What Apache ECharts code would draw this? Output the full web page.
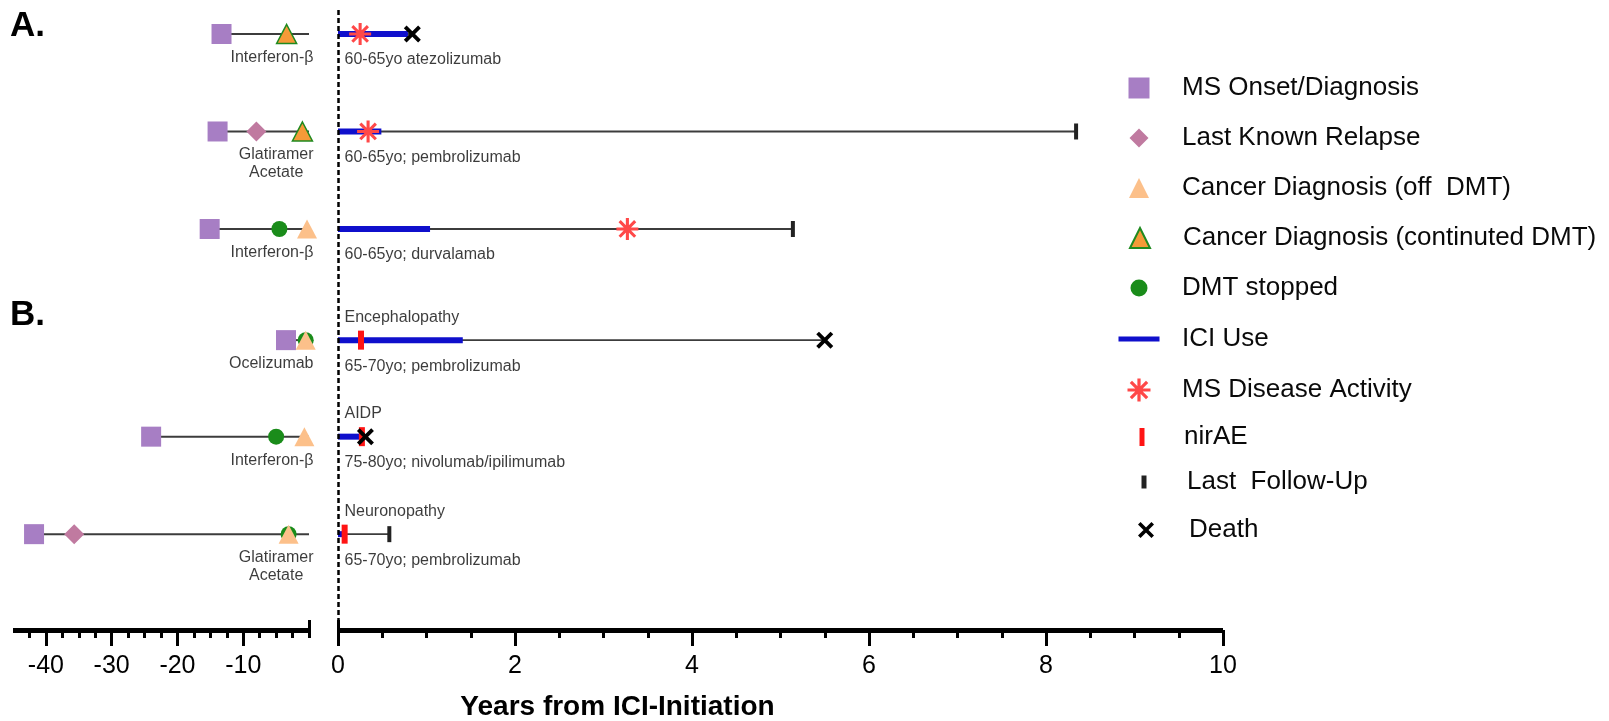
<!DOCTYPE html>
<html>
<head>
<meta charset="utf-8">
<script src="https://cdn.jsdelivr.net/npm/echarts@6/dist/echarts.min.js"></script>
<style>
html,body{margin:0;padding:0;background:#ffffff;}
#chart{width:1609px;height:721px;}
</style>
</head>
<body>
<div id="chart"></div>
<script>
// ---------------- data ----------------
// row positions on the (hidden) vertical axis: panel A rows 1-3, panel B rows 4-6
const rowY = [1, 2, 3, 4.14, 5.13, 6.13];

// left panel: years before ICI initiation
const msOnset        = [-13.3, -13.9, -15.1, -3.5, -24.0, -41.8];
const lastRelapse    = [null, -8.0, null, null, null, -35.7];
const cancerOffDMT   = [null, null, -0.3, -0.5, -0.7, -3.1];
const cancerContDMT  = [-3.4, -1.0, null, null, null, null];
const dmtStopped     = [null, null, -4.5, -0.5, -5.0, -3.1];

// right panel: years after ICI initiation
const iciEnd         = [0.79, 0.49, 1.04, 1.41, 0.25, 0.06];
const followEnd      = [0.84, 8.34, 5.14, 5.50, 0.31, 0.58];
const msActivity     = [0.25, 0.34, 3.27, null, null, null];
const nirAE          = [null, null, null, 0.26, 0.27, 0.075];
const lastFollowUp   = [null, 8.34, 5.14, null, null, 0.58];
const death          = [0.84, null, null, 5.50, 0.31, null];

// texts
const dmtNames   = ['Interferon-β', 'Glatiramer\nAcetate', 'Interferon-β', 'Ocelizumab', 'Interferon-β', 'Glatiramer\nAcetate'];
const ageDrug    = ['60-65yo atezolizumab', '60-65yo; pembrolizumab', '60-65yo; durvalamab', '65-70yo; pembrolizumab', '75-80yo; nivolumab/ipilimumab', '65-70yo; pembrolizumab'];
const nirAEType  = ['', '', '', 'Encephalopathy', 'AIDP', 'Neuronopathy'];
const panelLabels = ['A.', 'B.'];

// axis ticks
const leftTickLabels = [-40, -30, -20, -10];
const leftMinorTicks = [-42.5, -37.5, -35, -32.5, -27.5, -25, -22.5, -17.5, -15, -12.5, -7.5, -5, -2.5, 0];
const rightMin = 0, rightMax = 10, rightInterval = 2;
const leftMin = -45, leftMax = 0;
const axisTitle = 'Years from ICI-Initiation';

const legendNames = ['MS Onset/Diagnosis', 'Last Known Relapse', 'Cancer Diagnosis (off  DMT)',
  'Cancer Diagnosis (continuted DMT)', 'DMT stopped', 'ICI Use', 'MS Disease Activity',
  'nirAE', 'Last  Follow-Up', 'Death'];

// ---------------- styles ----------------
const FONT = "'Liberation Sans', Arial, Helvetica, sans-serif";
const ASTERISK = 'path://M43,0H57V100H43Z M0,43H100V57H0Z M19.6,9.7L90.3,80.4L80.4,90.3L9.7,19.6Z M90.3,19.6L19.6,90.3L9.7,80.4L80.4,9.7Z';
const CROSS = 'path://M0,16L16,0L100,84L84,100Z M84,0L100,16L16,100L0,84Z';
const COL = {
  onset: '#a77ec4', relapse: '#c07aa0', cancerOff: '#fcc08a', cancerCont: '#f59a38',
  contBorder: '#1f8a1f', dmt: '#1a8c1a', ici: '#0f0fcc', activity: '#ff4848',
  nirae: '#ff1414', follow: '#222222', death: '#000000', thin: '#3c3c3c'
};
const TXT = '#0a0a0a';

const pts = arr => arr.map((v, i) => (v == null ? null : [v, rowY[i]])).filter(Boolean);

function segSeries(name, xi, yi, starts, ends, lineStyle, z) {
  return rowY.map((y, i) => ({
    type: 'line', name: name, xAxisIndex: xi, yAxisIndex: yi,
    data: [[starts[i], y], [ends[i], y]],
    symbol: 'none', silent: true, animation: false, z: z,
    itemStyle: { color: lineStyle.color },
    lineStyle: lineStyle
  }));
}
const zeros = rowY.map(() => 0);

function scatter(name, xi, yi, arr, symbol, size, itemStyle, z) {
  return {
    type: 'scatter', name: name, xAxisIndex: xi, yAxisIndex: yi,
    data: pts(arr), symbol: symbol, symbolSize: size, itemStyle: itemStyle,
    silent: true, animation: false, z: z
  };
}

const series = [];
// left thin lines (MS onset -> ICI start)
series.push(...segSeries('leftLine', 0, 0, msOnset, zeros, { color: COL.thin, width: 2 }, 2));
// right thin lines (ICI start -> last follow-up / death)
const rightThin = segSeries('rightLine', 3, 1, zeros, followEnd, { color: COL.thin, width: 1.8 }, 2);
rightThin[0].markLine = {
  silent: true, symbol: 'none', animation: false,
  label: { show: false },
  lineStyle: { color: '#000', width: 2.5, type: [5, 3] },
  data: [{ xAxis: 0 }]
};
series.push(...rightThin);
// ICI use
series.push(...segSeries('ICI Use', 3, 1, zeros, iciEnd, { color: COL.ici, width: 6, cap: 'butt' }, 3));

// markers
series.push(scatter('DMT stopped', 0, 0, dmtStopped, 'circle', 16, { color: COL.dmt, opacity: 1 }, 4));
series.push(scatter('MS Onset/Diagnosis', 0, 0, msOnset, 'rect', 20, { color: COL.onset, opacity: 1 }, 5));
series.push(scatter('Last Known Relapse', 0, 0, lastRelapse, 'diamond', 20, { color: COL.relapse, opacity: 1 }, 5));
series.push(scatter('Cancer Diagnosis (off  DMT)', 0, 0, cancerOffDMT, 'triangle', [20, 19], { color: COL.cancerOff, opacity: 1 }, 6));
series.push(scatter('Cancer Diagnosis (continuted DMT)', 0, 0, cancerContDMT, 'triangle', [20, 19],
  { color: COL.cancerCont, borderColor: COL.contBorder, borderWidth: 1.5, opacity: 1 }, 6));
series.push(scatter('MS Disease Activity', 3, 1, msActivity, ASTERISK, 22, { color: COL.activity, opacity: 1 }, 6));
series.push(scatter('nirAE', 3, 1, nirAE, 'rect', [6, 19], { color: COL.nirae, opacity: 1 }, 6));
series.push(scatter('Last  Follow-Up', 3, 1, lastFollowUp, 'rect', [4, 16], { color: COL.follow, opacity: 1 }, 6));
series.push(scatter('Death', 3, 1, death, CROSS, 17, { color: COL.death, opacity: 1 }, 7));

// text labels
series.push({
  type: 'scatter', name: 'dmtLabels', xAxisIndex: 0, yAxisIndex: 0, silent: true, animation: false,
  symbol: 'circle', symbolSize: 1, itemStyle: { color: 'rgba(0,0,0,0)' }, z: 8,
  data: dmtNames.map((t, i) => ({ value: [0, rowY[i]], name: t })),
  label: {
    show: true, position: [5, 15], align: 'right', verticalAlign: 'top',
    formatter: p => p.name.split('\n').map(s => '{c|' + s + '}').join('\n'),
    rich: { c: { fontSize: 16, lineHeight: 18, align: 'center', fontFamily: FONT, color: TXT } }
  }
});
series.push({
  type: 'scatter', name: 'drugLabels', xAxisIndex: 3, yAxisIndex: 1, silent: true, animation: false,
  symbol: 'circle', symbolSize: 1, itemStyle: { color: 'rgba(0,0,0,0)' }, z: 8,
  data: ageDrug.map((t, i) => ({ value: [0, rowY[i]], name: t })),
  label: {
    show: true, position: [7, 17], align: 'left', verticalAlign: 'top',
    formatter: p => p.name, fontSize: 16, lineHeight: 19, fontFamily: FONT, color: TXT
  }
});
series.push({
  type: 'scatter', name: 'nirAELabels', xAxisIndex: 3, yAxisIndex: 1, silent: true, animation: false,
  symbol: 'circle', symbolSize: 1, itemStyle: { color: 'rgba(0,0,0,0)' }, z: 8,
  data: nirAEType.map((t, i) => (t ? { value: [0, rowY[i]], name: t } : null)).filter(Boolean),
  label: {
    show: true, position: [7, -13], align: 'left', verticalAlign: 'bottom',
    formatter: p => p.name, fontSize: 16, lineHeight: 19, fontFamily: FONT, color: TXT
  }
});

// legends (one component per entry so every icon can have its own size)
const legendIcons = ['rect', 'diamond', 'triangle', 'triangle', 'circle', 'rect', ASTERISK, 'rect', 'rect', CROSS];
const legendLayout = [
  { cx: 1139, cy: 88, w: 21, h: 21, tx: 1182 },
  { cx: 1139, cy: 138, w: 19, h: 19, tx: 1182 },
  { cx: 1139, cy: 188, w: 20, h: 20, tx: 1182 },
  { cx: 1139, cy: 238, w: 20, h: 20, tx: 1182 },
  { cx: 1139, cy: 288, w: 17, h: 17, tx: 1182 },
  { cx: 1139, cy: 339, w: 41, h: 5, tx: 1182 },
  { cx: 1139, cy: 390, w: 23, h: 23, tx: 1182 },
  { cx: 1142, cy: 437, w: 5, h: 18, tx: 1184 },
  { cx: 1144, cy: 482, w: 5, h: 13, tx: 1187 },
  { cx: 1146, cy: 530, w: 16, h: 16, tx: 1189 }
];
const legends = legendNames.map((n, i) => {
  const L = legendLayout[i];
  return {
    show: true, selectedMode: false, orient: 'horizontal', padding: 0,
    left: L.cx - L.w / 2, top: L.cy - 15,
    itemWidth: L.w, itemHeight: L.h,
    data: [{ name: n, icon: legendIcons[i] }],
    textStyle: {
      fontSize: 26, fontFamily: FONT, color: TXT, lineHeight: 30,
      padding: [0, 0, 0, L.tx - (L.cx + L.w / 2) - 5]
    }
  };
});

const option = {
  backgroundColor: '#ffffff',
  animation: false,
  textStyle: { fontFamily: FONT },
  title: [
    { text: panelLabels[0], left: 10, top: 9, padding: 0, textStyle: { fontSize: 35, fontWeight: 'bold', color: '#000', fontFamily: FONT } },
    { text: panelLabels[1], left: 10, top: 298, padding: 0, textStyle: { fontSize: 35, fontWeight: 'bold', color: '#000', fontFamily: FONT } }
  ],
  legend: legends,
  grid: [
    { left: 13, top: 10, width: 296, height: 620, containLabel: false, outerBoundsMode: 'none' },
    { left: 338, top: 10, width: 885, height: 620, containLabel: false, outerBoundsMode: 'none' }
  ],
  xAxis: [
    { // left main axis
      gridIndex: 0, type: 'value', min: leftMin, max: leftMax, position: 'bottom',
      axisLine: { onZero: false, lineStyle: { color: '#000', width: 5, cap: 'butt' } },
      axisTick: { customValues: leftTickLabels, length: 16, lineStyle: { color: '#000', width: 3 } },
      axisLabel: { customValues: leftTickLabels, fontSize: 25, color: '#000', margin: 24, fontFamily: FONT },
      splitLine: { show: false }
    },
    { // left minor ticks
      gridIndex: 0, type: 'value', min: leftMin, max: leftMax, position: 'bottom',
      axisLine: { show: false, onZero: false },
      axisTick: { customValues: leftMinorTicks, length: 8, lineStyle: { color: '#000', width: 3 } },
      axisLabel: { show: false }, splitLine: { show: false }
    },
    { // left end cap (upper part)
      gridIndex: 0, type: 'value', min: leftMin, max: leftMax, position: 'bottom',
      axisLine: { show: false, onZero: false },
      axisTick: { customValues: [leftMax], inside: true, length: 10, lineStyle: { color: '#000', width: 3 } },
      axisLabel: { show: false }, splitLine: { show: false }
    },
    { // right main axis
      gridIndex: 1, type: 'value', min: rightMin, max: rightMax, interval: rightInterval, position: 'bottom',
      axisLine: { onZero: false, lineStyle: { color: '#000', width: 5, cap: 'butt' } },
      axisTick: { length: 16, lineStyle: { color: '#000', width: 3 } },
      minorTick: { show: true, splitNumber: 4, length: 8, lineStyle: { color: '#000', width: 3 } },
      axisLabel: { fontSize: 25, color: '#000', margin: 24, fontFamily: FONT },
      splitLine: { show: false }, minorSplitLine: { show: false },
      name: axisTitle, nameLocation: 'middle', nameGap: 63,
      nameTextStyle: { fontSize: 28, fontWeight: 'bold', color: '#000', fontFamily: FONT, padding: [0, 326, 0, 0] }
    },
    { // right start cap (upper part)
      gridIndex: 1, type: 'value', min: rightMin, max: rightMax, position: 'bottom',
      axisLine: { show: false, onZero: false },
      axisTick: { customValues: [rightMin], inside: true, length: 10, lineStyle: { color: '#000', width: 3 } },
      axisLabel: { show: false }, splitLine: { show: false }
    }
  ],
  yAxis: [
    { gridIndex: 0, type: 'value', min: 0.754, max: 7.113, inverse: true, show: false },
    { gridIndex: 1, type: 'value', min: 0.754, max: 7.113, inverse: true, show: false }
  ],
  series: series
};

const chart = echarts.init(document.getElementById('chart'), null, { renderer: 'canvas' });
chart.setOption(option);
</script>
</body>
</html>
